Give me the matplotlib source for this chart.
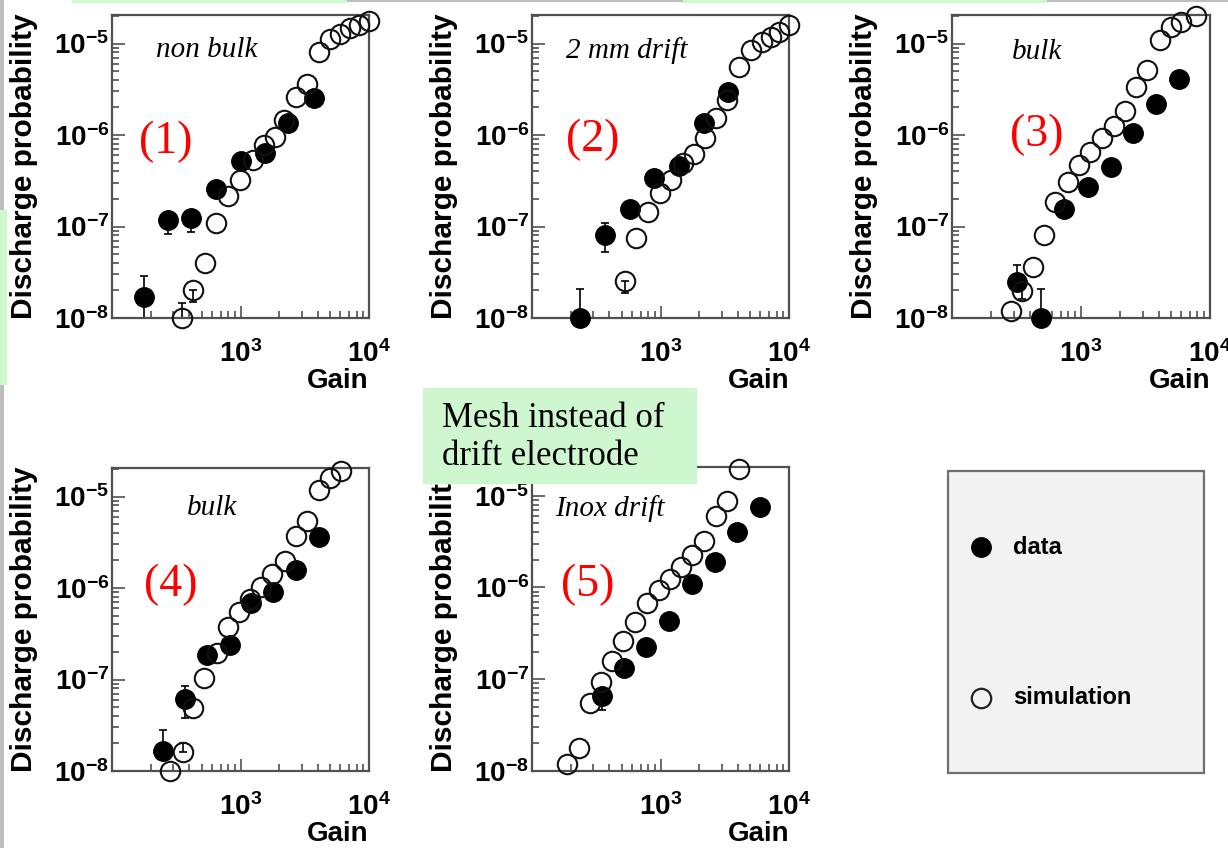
import matplotlib
matplotlib.use("Agg")
import matplotlib.pyplot as plt
import matplotlib.ticker as mticker
from matplotlib.patches import Rectangle
from matplotlib.lines import Line2D

W, H = 1228, 848

plt.rcParams['font.family'] = 'Liberation Sans'
plt.rcParams['font.weight'] = 'bold'
plt.rcParams['mathtext.fontset'] = 'custom'
plt.rcParams['mathtext.rm'] = 'Liberation Sans:bold'
plt.rcParams['mathtext.bf'] = 'Liberation Sans:bold'

# ---- data ----
# (1) non bulk
p1_data_gain = [176, 272, 414, 649, 1000, 1549, 2343, 3741]
p1_data_prob = [1.68e-8, 1.18e-7, 1.25e-7, 2.6e-7, 5.2e-7, 6.4e-7, 1.37e-6, 2.55e-6]
p1_sim_gain = [350, 427, 525, 649, 802, 989, 1256, 1521, 1844, 2180, 2690, 3280,
               4090, 4990, 5970, 7150, 8400, 9950]
p1_sim_prob = [1.0e-8, 2.0e-8, 4.0e-8, 1.09e-7, 2.16e-7, 3.2e-7, 5.3e-7, 7.8e-7,
               9.6e-7, 1.45e-6, 2.6e-6, 3.65e-6, 8.1e-6, 1.13e-5, 1.28e-5, 1.46e-5,
               1.58e-5, 1.76e-5]
p1_data_err = [(0, 9e-9, 2.9e-8), (1, 8.2e-8, 1.18e-7), (2, 8.8e-8, 1.25e-7)]
p1_sim_err = [(0, 1.0e-8, 1.47e-8), (1, 1.5e-8, 2.0e-8)]

# (2) 2 mm drift
p2_data_gain = [237, 367, 575, 887, 1390, 2180, 3360]
p2_data_prob = [1.0e-8, 8.0e-8, 1.55e-7, 3.37e-7, 4.6e-7, 1.37e-6, 2.96e-6]
p2_sim_gain = [525, 649, 802, 989, 1197, 1503, 1820, 2206, 2690, 3280, 4090, 5050,
               6120, 7230, 8400, 9950]
p2_sim_prob = [2.55e-8, 7.4e-8, 1.43e-7, 2.34e-7, 3.2e-7, 4.9e-7, 6.2e-7, 9.2e-7,
               1.52e-6, 2.4e-6, 5.5e-6, 8.4e-6, 1.04e-5, 1.18e-5, 1.34e-5, 1.58e-5]
p2_data_err = [(0, 9e-9, 2.1e-8), (1, 5.3e-8, 1.1e-7)]
p2_sim_err = [(0, 1.87e-8, 2.55e-8)]

# (3) bulk
p3_data_gain = [321, 488, 733, 1127, 1694, 2528, 3838, 5770]
p3_data_prob = [2.5e-8, 1.0e-8, 1.56e-7, 2.72e-7, 4.5e-7, 1.06e-6, 2.2e-6, 4.1e-6]
p3_sim_gain = [285, 351, 428, 518, 627, 787, 970, 1182, 1449, 1799, 2179, 2686, 3270,
               4074, 4963, 6010, 7780]
p3_sim_prob = [1.18e-8, 1.95e-8, 3.65e-8, 8.1e-8, 1.87e-7, 3.1e-7, 4.7e-7, 6.6e-7,
               9.2e-7, 1.25e-6, 1.84e-6, 3.36e-6, 5.1e-6, 1.08e-5, 1.51e-5, 1.72e-5,
               1.98e-5]
p3_data_err = [(0, 2.5e-8, 3.8e-8), (1, 9e-9, 2.1e-8)]
p3_sim_err = [(1, 1.6e-8, 2.4e-8)]

# (4) bulk, mesh drift
p4_data_gain = [249, 368, 550, 826, 1211, 1798, 2685, 4077]
p4_data_prob = [1.65e-8, 6.15e-8, 1.83e-7, 2.41e-7, 6.8e-7, 8.97e-7, 1.58e-6, 3.57e-6]
p4_sim_gain = [285, 357, 428, 524, 657, 801, 970, 1182, 1449, 1765, 2203, 2686, 3270,
               4074, 4963, 6080]
p4_sim_prob = [9.9e-9, 1.61e-8, 4.9e-8, 1.04e-7, 1.94e-7, 3.72e-7, 5.4e-7, 7.6e-7,
               1.02e-6, 1.42e-6, 1.99e-6, 3.72e-6, 5.43e-6, 1.17e-5, 1.61e-5, 1.9e-5]
p4_data_err = [(0, 1.65e-8, 2.8e-8), (1, 3.8e-8, 8.6e-8)]
p4_sim_err = [(1, 1.61e-8, 2.0e-8)]

# (5) Inox drift
p5_data_gain = [351, 524, 778, 1161, 1766, 2636, 3955, 5940]
p5_data_prob = [6.5e-8, 1.34e-7, 2.22e-7, 4.33e-7, 1.09e-6, 1.9e-6, 4.05e-6, 7.6e-6]
p5_sim_gain = [187, 231, 281, 347, 420, 511, 638, 787, 970, 1182, 1432, 1766, 2178,
               2686, 3270, 4074]
p5_sim_prob = [1.18e-8, 1.8e-8, 5.5e-8, 9.35e-8, 1.58e-7, 2.62e-7, 4.2e-7, 6.8e-7,
               9.35e-7, 1.25e-6, 1.68e-6, 2.25e-6, 3.23e-6, 6.0e-6, 8.75e-6, 1.94e-5]
p5_data_err = [(0, 4.6e-8, 6.5e-8)]
p5_sim_err = []

panel_titles = ['non bulk', '2 mm drift', 'bulk', 'bulk', 'Inox drift']
panel_tags = ['(1)', '(2)', '(3)', '(4)', '(5)']
legend_labels = ['data', 'simulation']
note_lines = ['Mesh instead of', 'drift electrode']

# pixel boxes (left, top, right, bottom) and label positions in axes fraction
panels = [
    dict(box=(112, 15, 369, 318), data=(p1_data_gain, p1_data_prob, p1_data_err),
         sim=(p1_sim_gain, p1_sim_prob, p1_sim_err), title_xy=(0.37, 0.884), tag_xy=(0.21, 0.58)),
    dict(box=(532, 15, 789, 318), data=(p2_data_gain, p2_data_prob, p2_data_err),
         sim=(p2_sim_gain, p2_sim_prob, p2_sim_err), title_xy=(0.37, 0.884), tag_xy=(0.237, 0.587)),
    dict(box=(952, 15, 1210, 318), data=(p3_data_gain, p3_data_prob, p3_data_err),
         sim=(p3_sim_gain, p3_sim_prob, p3_sim_err), title_xy=(0.33, 0.878), tag_xy=(0.33, 0.604)),
    dict(box=(112, 468, 369, 771), data=(p4_data_gain, p4_data_prob, p4_data_err),
         sim=(p4_sim_gain, p4_sim_prob, p4_sim_err), title_xy=(0.389, 0.868), tag_xy=(0.23, 0.614)),
    dict(box=(532, 467, 789, 771), data=(p5_data_gain, p5_data_prob, p5_data_err),
         sim=(p5_sim_gain, p5_sim_prob, p5_sim_err), title_xy=(0.303, 0.865), tag_xy=(0.218, 0.612)),
]

MS = 14
FRAME = '#505050'


def fx(x):
    return x / W


def fy(y):
    return 1 - y / H


def draw_errors(ax, gain, prob, errs):
    if not errs:
        return
    xs = [gain[i] for i, lo, hi in errs]
    ys = [prob[i] for i, lo, hi in errs]
    lo = [prob[i] - l for i, l, h in errs]
    hi = [h - prob[i] for i, l, h in errs]
    ax.errorbar(xs, ys, yerr=[lo, hi], fmt='none', ecolor='black',
                elinewidth=1.2, capsize=3, capthick=1.2, zorder=2)


fig = plt.figure(figsize=(W / 100, H / 100), dpi=100)

for i, p in enumerate(panels):
    l, t, r, b = p['box']
    ax = fig.add_axes([fx(l), fy(b), (r - l) / W, (b - t) / H])
    ax.set_xscale('log')
    ax.set_yscale('log')
    ax.set_xlim(100, 1e4)
    ax.set_ylim(1e-8, 2.05e-5)

    dg, dp, de = p['data']
    sg, sp, se = p['sim']
    draw_errors(ax, dg, dp, de)
    draw_errors(ax, sg, sp, se)
    ax.plot(dg, dp, 'o', ms=MS, mfc='black', mec='black', ls='none',
            clip_on=False, zorder=3)
    ax.plot(sg, sp, 'o', ms=MS, mfc='none', mec='#111111', mew=1.5, ls='none',
            clip_on=False, zorder=4)

    ax.set_xticks([1e3, 1e4])
    ax.xaxis.set_major_formatter(mticker.LogFormatterMathtext())
    ax.xaxis.set_minor_locator(mticker.LogLocator(base=10, subs=range(2, 10), numticks=20))
    ax.xaxis.set_minor_formatter(mticker.NullFormatter())
    ax.set_yticks([1e-8, 1e-7, 1e-6, 1e-5])
    ax.yaxis.set_major_formatter(mticker.LogFormatterMathtext())
    ax.yaxis.set_minor_locator(mticker.LogLocator(base=10, subs=range(2, 10), numticks=20))
    ax.yaxis.set_minor_formatter(mticker.NullFormatter())

    ax.tick_params(which='both', direction='in', top=False, right=False,
                   color=FRAME, width=1.2)
    ax.tick_params(which='major', length=9, labelsize=20)
    ax.tick_params(which='minor', length=5)
    ax.tick_params(axis='x', which='major', pad=16)
    ax.tick_params(axis='y', which='major', pad=2)
    for s in ax.spines.values():
        s.set_color(FRAME)
        s.set_linewidth(1.6)

    ax.set_ylabel('Discharge probability', fontsize=21.5, fontweight='bold')
    ax.yaxis.set_label_coords(-0.288, 0.5)
    ax.set_xlabel('Gain', fontsize=20, fontweight='bold', loc='right')
    ax.xaxis.set_label_coords(1.0, -0.165)

    ax.text(*p['title_xy'], panel_titles[i], transform=ax.transAxes, ha='center',
            va='center', fontsize=21, fontstyle='italic', fontweight='normal',
            family='Liberation Serif')
    ax.text(*p['tag_xy'], panel_tags[i], transform=ax.transAxes, ha='center',
            va='center', fontsize=33, color='red', fontweight='normal',
            family='Liberation Serif')

# legend panel
fig.add_artist(Rectangle((fx(948), fy(773)), (1204 - 948) / W, (773 - 471) / H,
                         transform=fig.transFigure, facecolor='#f2f2f2',
                         edgecolor='#707070', lw=1.6, zorder=1))
fig.add_artist(Line2D([fx(981)], [fy(547)], marker='o', ms=MS, mfc='black', mec='black',
                      transform=fig.transFigure, zorder=2))
fig.add_artist(Line2D([fx(981)], [fy(698)], marker='o', ms=MS, mfc='none',
                      mec='#222222', mew=1.6, transform=fig.transFigure, zorder=2))
fig.text(fx(1013), fy(547), legend_labels[0], fontsize=17, fontweight='bold',
         va='center', ha='left', zorder=2)
fig.text(fx(1013), fy(698), legend_labels[1], fontsize=17, fontweight='bold',
         va='center', ha='left', zorder=2)

# green note box over panel 5
fig.add_artist(Rectangle((fx(423), fy(484)), (697 - 423) / W, (484 - 388) / H,
                         transform=fig.transFigure, facecolor='#cff7cf',
                         edgecolor='none', zorder=5))
fig.text(fx(442), fy(427), note_lines[0], fontsize=25, fontweight='normal',
         family='Liberation Serif', va='baseline', ha='left', zorder=6)
fig.text(fx(442), fy(465), note_lines[1], fontsize=25, fontweight='normal',
         family='Liberation Serif', va='baseline', ha='left', zorder=6)

# slide edge strips
strips = [
    (72, 0, 347, 3, '#ccfacc'), (347, 0, 683, 2, '#bdbdbd'),
    (683, 0, 1047, 3, '#ccfacc'), (1047, 0, 1228, 2, '#bdbdbd'),
    (0, 0, 4, 210, '#bdbdbd'), (0, 210, 7, 385, '#ccfacc'), (0, 385, 4, 848, '#bdbdbd'),
]
for x0, y0, x1, y1, c in strips:
    fig.add_artist(Rectangle((fx(x0), fy(y1)), (x1 - x0) / W, (y1 - y0) / H,
                             transform=fig.transFigure, facecolor=c,
                             edgecolor='none', zorder=7))

fig.savefig('out.png', dpi=100)
